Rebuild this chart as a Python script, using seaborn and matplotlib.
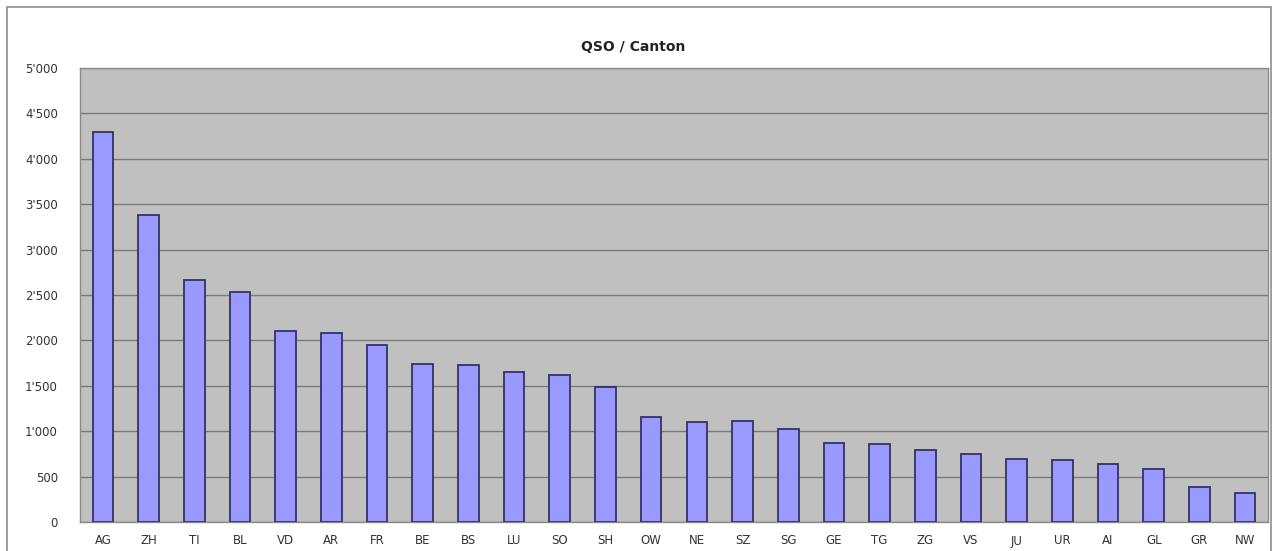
import matplotlib
matplotlib.use("Agg")
import matplotlib.pyplot as plt
import seaborn as sns
import pandas as pd
from matplotlib.ticker import FuncFormatter, MultipleLocator
from matplotlib.patches import Rectangle

cantons = ["AG", "ZH", "TI", "BL", "VD", "AR", "FR", "BE", "BS", "LU", "SO", "SH", "OW",
           "NE", "SZ", "SG", "GE", "TG", "ZG", "VS", "JU", "UR", "AI", "GL", "GR", "NW"]
qso = [4290, 3380, 2665, 2533, 2105, 2080, 1945, 1740, 1730, 1650, 1615, 1485, 1160,
       1105, 1108, 1020, 865, 860, 793, 752, 694, 680, 642, 580, 382, 323]

df = pd.DataFrame({"Canton": cantons, "QSO": qso})

sns.set_theme(style="white")
plt.rcParams['font.family'] = ['DejaVu Sans']

fig = plt.figure(figsize=(12.76, 5.51), dpi=100)
ax = fig.add_axes([80/1276, 29/551, 1188/1276, 454/551])
ax.set_facecolor("#C0C0C0")

sns.barplot(data=df, x="Canton", y="QSO", ax=ax, color="#9999FF", saturation=1,
            width=0.45, edgecolor="#333366", linewidth=1.3, zorder=3)

ax.set_ylim(0, 5000)
ax.set_xlim(-0.5, len(cantons) - 0.5)
ax.yaxis.set_major_locator(MultipleLocator(500))
ax.yaxis.set_major_formatter(FuncFormatter(lambda v, p: f"{int(v):,}".replace(",", "'")))
ax.grid(axis="y", color="#7a7a7a", linewidth=1.0, zorder=1)
ax.set_axisbelow(True)
ax.set_xlabel("")
ax.set_ylabel("")
ax.tick_params(axis="both", length=0, labelsize=8.5, colors="#333333")
ax.tick_params(axis="y", pad=16)
ax.tick_params(axis="x", pad=9)
for s in ax.spines.values():
    s.set_color("#8a8a8a")
    s.set_linewidth(1.0)

fig.text(633/1276, 1 - 47/551, "QSO / Canton", ha="center", va="center",
         fontsize=10, fontweight="bold", color="#222222")

frame = Rectangle((7/1276, -0.02), (1271 - 7)/1276, 1.02 - 7/551 + 0.0,
                  transform=fig.transFigure, fill=False, edgecolor="#8c8c8c",
                  linewidth=1.2, clip_on=False)
fig.patches.append(frame)

fig.savefig("out.png", dpi=100, facecolor="white")
